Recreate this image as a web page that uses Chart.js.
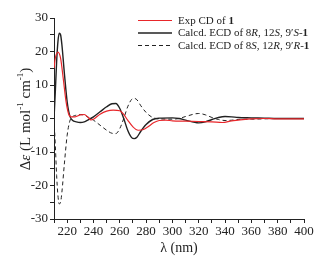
<!DOCTYPE html>
<html>
<head>
<meta charset="utf-8">
<script src="https://cdn.jsdelivr.net/npm/chart.js@4/dist/chart.umd.min.js"></script>
<style>
  html, body { margin: 0; padding: 0; background: #fff; }
  #wrap { width: 326px; height: 257px; }
</style>
</head>
<body>
<div id="wrap"><canvas id="cdChart" width="326" height="257"></canvas></div>
<script>
// wavelengths (nm) and delta epsilon values
var expX = [210, 211, 213, 215, 217, 219, 221, 223, 226, 230, 233, 236, 238, 240, 245, 250, 255, 260, 263, 266, 270, 274, 278, 282, 286, 290, 295, 300, 310, 320, 330, 338, 345, 350, 360, 370, 380, 390, 400];
var expY = [15, 18, 19.8, 18, 12, 5.5, 1.5, 0.5, 0.5, 1.1, 1.2, 0.3, -0.4, -0.2, 1.3, 2.2, 2.5, 2.3, 1.2, -0.5, -2.5, -3.5, -3.3, -2.3, -1.2, -0.6, -0.5, -0.7, -0.8, -0.9, -1.0, -1.2, -0.7, -0.5, -0.1, 0, -0.1, -0.1, -0.1];

var calcX = [210, 211, 212, 213, 214, 215, 216, 218, 220, 222, 224, 227, 230, 233, 236, 240, 245, 250, 254, 257, 260, 263, 266, 269, 271, 273, 276, 280, 285, 290, 300, 305, 310, 320, 325, 330, 335, 340, 345, 350, 360, 370, 380, 400];
var calcSRY = [0, 8, 17, 23, 25.5, 25, 22, 13, 5, 0.8, -0.5, -1.0, -1.2, -1.0, -0.4, 0.5, 2.0, 3.5, 4.4, 4.5, 3.0, 0, -3.5, -5.7, -6, -5.6, -3.8, -1.8, -0.3, 0.1, 0.2, 0, -0.5, -1.3, -1.0, -0.3, 0.3, 0.6, 0.5, 0.3, 0.2, 0.1, 0, 0];
var calcRSY = [0, -8, -17, -23, -25.5, -25, -22, -13, -5, -0.8, 0.5, 1.0, 1.2, 1.0, 0.4, -0.5, -2.0, -3.5, -4.4, -4.5, -3.0, 0, 3.5, 5.7, 6, 5.6, 3.8, 1.8, 0.3, -0.1, -0.2, 0, 0.6, 1.5, 1.1, 0.3, -0.3, -0.6, -0.5, -0.3, -0.2, -0.1, 0, 0];

var xMin = 210, xMax = 400;
var yMin = -30, yMax = 30;

function toPoints(xs, ys) {
    return xs.map(function (x, i) { return { x: x, y: ys[i] }; });
}

var serif = "'Liberation Serif', 'DejaVu Serif', serif";

// legend entries, each label split into styled pieces
var legendItems = [
    { color: '#e8262a', width: 1.2, dash: [], parts: [['Exp CD of ', ''], ['1', 'bold ']] },
    { color: '#222', width: 1.4, dash: [], parts: [['Calcd. ECD of 8', ''], ['R', 'italic '], [', 12', ''], ['S', 'italic '], [', 9\u2032', ''], ['S', 'italic '], ['-', ''], ['1', 'bold ']] },
    { color: '#222', width: 1, dash: [4, 3], parts: [['Calcd. ECD of 8', ''], ['S', 'italic '], [', 12', ''], ['R', 'italic '], [', 9\u2032', ''], ['R', 'italic '], ['-', ''], ['1', 'bold ']] }
];

var legendPlugin = {
    id: 'cdLegend',
    afterDraw: function (chart) {
        var c = chart.ctx;
        c.save();
        var rowY = [20.5, 33, 45.5];
        legendItems.forEach(function (item, i) {
            var y = rowY[i];
            c.beginPath();
            c.strokeStyle = item.color;
            c.lineWidth = item.width;
            c.setLineDash(item.dash);
            c.moveTo(138, y);
            c.lineTo(172, y);
            c.stroke();
            c.setLineDash([]);
            var x = 178;
            c.fillStyle = '#222';
            c.textBaseline = 'middle';
            item.parts.forEach(function (p) {
                c.font = p[1] + '11px ' + serif;
                c.fillText(p[0], x, y + 0.5);
                x += c.measureText(p[0]).width;
            });
        });

        // rotated y axis title with superscripts
        c.translate(21, 119);
        c.rotate(-Math.PI / 2);
        var pieces = [['\u0394', '', 0, 15], ['\u03b5', 'italic ', 0, 15], [' (L mol', '', 0, 15], ['-1', '', -5, 9], [' cm', '', 0, 15], ['-1', '', -5, 9], [')', '', 0, 15]];
        var total = 0;
        pieces.forEach(function (p) {
            c.font = p[1] + p[3] + 'px ' + serif;
            total += c.measureText(p[0]).width;
        });
        var px = -total / 2;
        c.textBaseline = 'middle';
        c.fillStyle = '#222';
        pieces.forEach(function (p) {
            c.font = p[1] + p[3] + 'px ' + serif;
            c.fillText(p[0], px, p[2] + 5);
            px += c.measureText(p[0]).width;
        });
        c.restore();
    }
};

var ctx = document.getElementById('cdChart').getContext('2d');
var cdChart = new Chart(ctx, {
    type: 'scatter',
    data: {
        datasets: [{
            label: 'Exp CD of 1',
            data: toPoints(expX, expY),
            showLine: true,
            borderColor: '#e8262a',
            borderWidth: 1.2,
            pointRadius: 0,
            cubicInterpolationMode: 'monotone'
        }, {
            label: "Calcd. ECD of 8R, 12S, 9'S-1",
            data: toPoints(calcX, calcSRY),
            showLine: true,
            borderColor: '#222',
            borderWidth: 1.4,
            pointRadius: 0,
            cubicInterpolationMode: 'monotone'
        }, {
            label: "Calcd. ECD of 8S, 12R, 9'R-1",
            data: toPoints(calcX, calcRSY),
            showLine: true,
            borderColor: '#222',
            borderWidth: 1,
            borderDash: [4, 3],
            pointRadius: 0,
            cubicInterpolationMode: 'monotone'
        }]
    },
    options: {
        responsive: false,
        animation: false,
        layout: { padding: { top: 18, right: 22, left: 0, bottom: 0 } },
        plugins: {
            legend: { display: false },
            tooltip: { enabled: false }
        },
        scales: {
            x: {
                type: 'linear',
                min: xMin,
                max: xMax,
                border: { color: '#222', width: 1 },
                grid: { drawOnChartArea: false, tickLength: 4, color: '#222' },
                ticks: {
                    stepSize: 10,
                    autoSkip: false,
                    maxRotation: 0,
                    padding: 1,
                    color: '#222',
                    font: { family: serif, size: 13 },
                    callback: function (v) { return v % 20 === 0 ? v : ''; }
                },
                title: {
                    display: true,
                    text: '\u03bb (nm)',
                    color: '#222',
                    font: { family: serif, size: 14 },
                    padding: { top: 0, bottom: 0 }
                },
                afterFit: function (s) { s.height = 38; }
            },
            y: {
                min: yMin,
                max: yMax,
                border: { color: '#222', width: 1 },
                grid: { drawOnChartArea: false, tickLength: 4, color: '#222' },
                ticks: {
                    stepSize: 5,
                    autoSkip: false,
                    padding: 2,
                    color: '#222',
                    font: { family: serif, size: 13 },
                    callback: function (v) { return v % 10 === 0 ? v : ''; }
                },
                afterFit: function (s) { s.width = 54; }
            }
        }
    },
    plugins: [legendPlugin]
});
</script>
</body>
</html>
